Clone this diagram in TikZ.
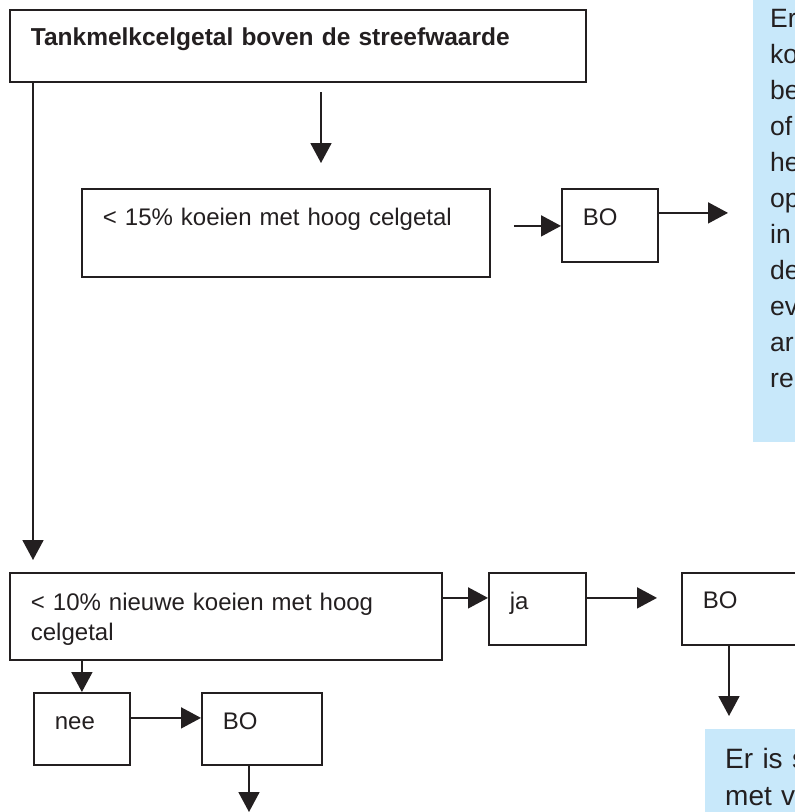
\documentclass[tikz,border=0pt]{standalone}
\usepackage{fontspec}
\setmainfont{Liberation Sans}
\usetikzlibrary{arrows.meta}
\definecolor{FlowInk}{HTML}{231F20}
\definecolor{FlowBlue}{HTML}{C8E8FA}
\begin{document}
\begin{tikzpicture}[x=1pt,y=-1pt,
  box/.style={draw=FlowInk,line width=1.8pt,anchor=north west,inner xsep=21pt,inner ysep=0pt,align=left,text=FlowInk,font=\fontsize{24}{30}\selectfont,text height=37pt},
  note/.style={fill=FlowBlue,anchor=north west,inner ysep=0pt,align=left,text=FlowInk},
  arr/.style={draw=FlowInk,line width=1.8pt,-{Triangle[length=20pt,width=21pt]}}]
  \useasboundingbox (0,0) rectangle (795,812);
  \node[box,text width=534pt,text height=36pt,text depth=36pt,font=\fontsize{24.5}{30}\selectfont\bfseries] (tank) at (9,9) {Tankmelkcelgetal boven de streefwaarde};
  \node[box,text width=366pt,text depth=51pt] (b15) at (81,188) {< 15\% koeien met hoog celgetal};
  \node[box,text width=54pt,text depth=36pt] (bo1) at (561,188) {BO};
  \node[note,inner xsep=17pt,text width=60pt,text height=37pt,text depth=415pt,font=\fontsize{26.5}{36}\selectfont] (noteA) at (753,-10) {Er\\ko\\be\\of\\he\\op\\in\\de\\ev\\ar\\re};
  \node[box,text width=390pt,text height=38pt,text depth=49pt] (b10) at (9,572) {< 10\% nieuwe koeien met hoog\\celgetal};
  \node[box,text width=55pt,text depth=35pt] (ja) at (488,572) {ja};
  \node[box,text width=98pt,text height=36pt,text depth=36pt] (bo2) at (681,572) {BO};
  \node[note,inner xsep=20pt,text width=200pt,text height=39pt,text depth=100pt,font=\fontsize{28}{37}\selectfont] (noteB) at (705,729) {Er is s\\met v};
  \node[box,text width=54pt,text depth=35pt] (nee) at (33,692) {nee};
  \node[box,text width=78pt,text depth=35pt] (bo3) at (201,692) {BO};
  \coordinate (t1) at (321,92); \coordinate (t2) at (321,163);
  \coordinate (i1) at ([yshift=-0.5pt]bo1.west);
  \coordinate (o1) at ([yshift=12.5pt]bo1.east);
  \coordinate (j1) at ([yshift=11pt]ja.west);
  \coordinate (o2) at ([xshift=48pt]bo2.south west);
  \coordinate (n1) at ([yshift=11pt]nee.east);
  \coordinate (d1) at (249,812);
  \draw[arr] (t1) -- (t2);
  \draw[arr,shorten >=12pt] ([xshift=24pt]tank.south west) -- ([xshift=24pt]b10.north west);
  \draw[arr,shorten <=23pt] (i1 -| b15.east) -- (i1);
  \draw[arr,shorten >=25pt] (o1) -- (o1 -| noteA.west);
  \draw[arr] (j1 -| b10.east) -- (j1);
  \draw[arr,shorten >=24pt] (j1 -| ja.east) -- (j1 -| bo2.west);
  \draw[arr,shorten >=13pt] (o2) -- (o2 |- noteB.north);
  \draw[arr] (nee.north |- b10.south) -- (nee.north);
  \draw[arr] (n1) -- (n1 -| bo3.west);
  \draw[arr] (d1 |- bo3.south) -- (d1);
\end{tikzpicture}
\end{document}
